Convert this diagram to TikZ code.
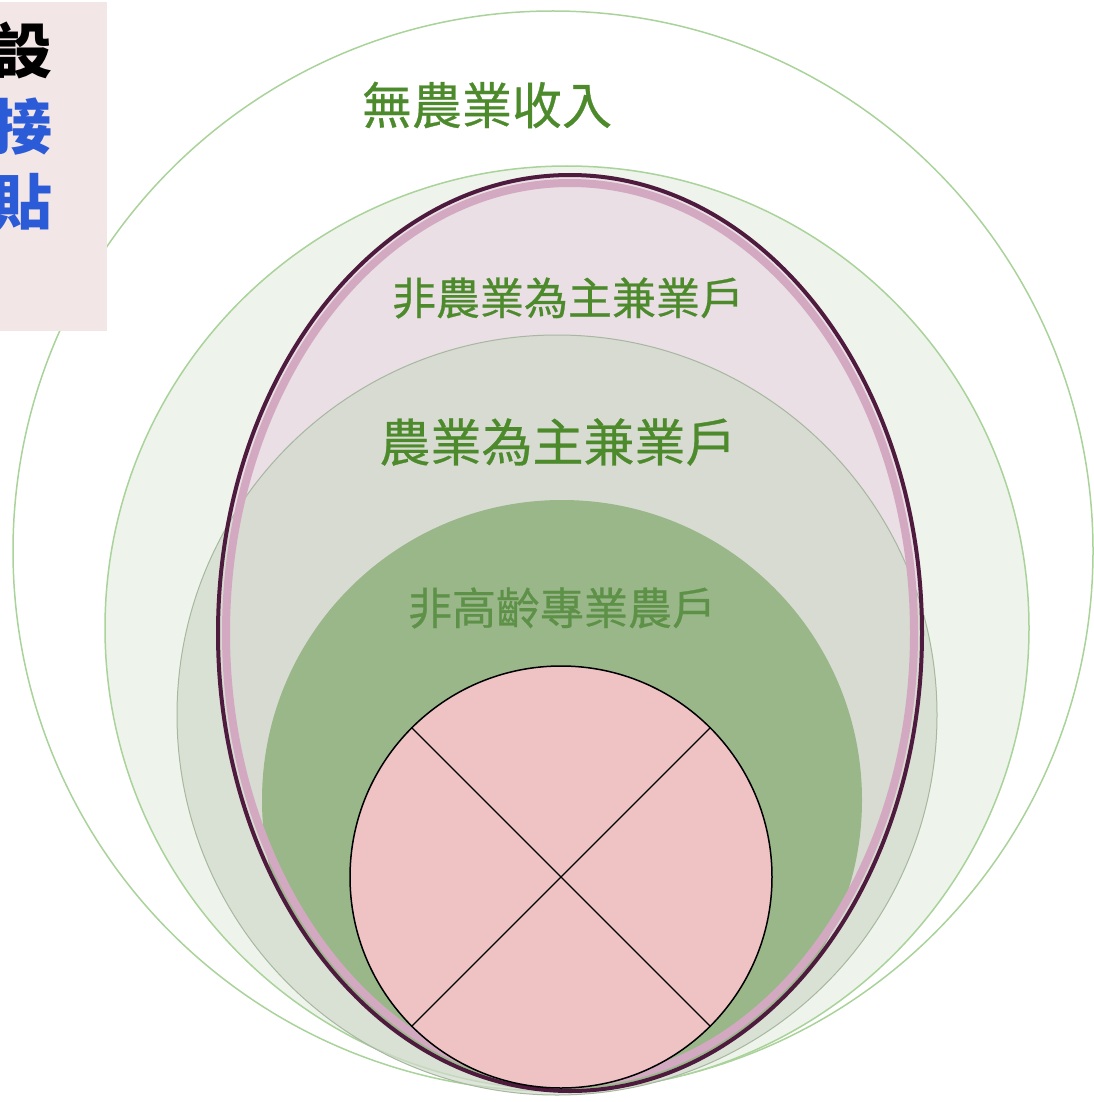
\documentclass[tikz,border=0pt]{standalone}
\usepackage{fontspec}
\newfontfamily\cjk{Noto Sans CJK TC}
\newfontfamily\cjkmid{Noto Sans CJK TC}[FakeBold=0.6]
\definecolor{ringgreen}{HTML}{A9D39A}
\definecolor{paleB}{HTML}{EEF4EB}
\definecolor{eggfill}{HTML}{E9DFE4}
\definecolor{eggline}{HTML}{4E1B3E}
\definecolor{eggband}{HTML}{D3A9C1}
\definecolor{midfill}{HTML}{D1DACB}
\definecolor{midline}{HTML}{A7B7A0}
\definecolor{corefill}{HTML}{9AB78A}
\definecolor{holefill}{HTML}{EFC2C3}
\definecolor{labelgreen}{HTML}{4C8A2C}
\definecolor{corelabel}{HTML}{5E9148}
\definecolor{notepink}{HTML}{F3E6E6}
\definecolor{noteblue}{HTML}{2B5BD6}
\begin{document}
\begin{tikzpicture}[x=1pt,y=-1pt,
    tierring/.style={draw=ringgreen,line width=1.5pt},
    tierlabel/.style={text=labelgreen,inner sep=0pt,font=\cjkmid\fontsize{#1}{#1}\selectfont},
    notechar/.style={anchor=east,inner sep=0pt,font=\cjk\bfseries\fontsize{60}{60}\selectfont}]
    \useasboundingbox (0,0) rectangle (1093,1102);
    % outer rings
    \draw [tierring,fill=white] (553,551) circle (540pt);
    \draw [tierring,fill=paleB] (567,628) circle (462pt);
    % egg
    \fill [eggfill] (570,633) ellipse [x radius=352pt, y radius=458pt];
    \draw [midline,line width=1pt,fill=midfill,fill opacity=0.7] (557,715) circle (380pt);
    \begin{scope}
        \clip (570,633) ellipse [x radius=350pt, y radius=456pt];
        \fill [corefill] (562,800) circle (300pt);
    \end{scope}
    \draw [eggband,line width=8pt] (570,633) ellipse [x radius=344pt, y radius=450pt];
    \draw [eggline,line width=4pt] (570,633) ellipse [x radius=352pt, y radius=458pt];
    % note strip on the left
    \fill [notepink] (0,2) rectangle (107,331);
    \node [notechar] (she) at (53,50) {設};
    \node [notechar,text=noteblue] (jie) at (53,127) {接};
    \node [notechar,text=noteblue] (tie) at (53,202) {貼};
    % labels
    \node [tierlabel=50] (noinc) at (487,105) {無農業收入};
    \node [tierlabel=44] (nonmain) at (568,298) {非農業為主兼業戶};
    \node [tierlabel=51] (agmain) at (558,442) {農業為主兼業戶};
    \node [tierlabel=44,text=corelabel] (young) at (562,608) {非高齡專業農戶};
    % crossed circle
    \node [circle,draw=black,line width=1.5pt,fill=holefill,minimum size=422pt,inner sep=0pt] (hole) at (561,877) {};
    \draw [line width=1.2pt] (hole.north west) -- (hole.south east);
    \draw [line width=1.2pt] (hole.north east) -- (hole.south west);
\end{tikzpicture}
\end{document}
